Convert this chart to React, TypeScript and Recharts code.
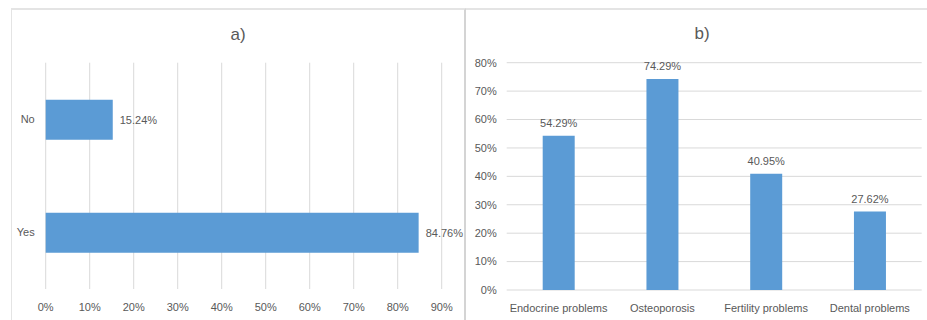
import React from "react";
import { BarChart, Bar, XAxis, YAxis, CartesianGrid, LabelList } from "recharts";

// a) yes / no split
const answerLabels = ["No", "Yes"];
const answerShares = [15.24, 84.76];
const shareTicks = [0, 10, 20, 30, 40, 50, 60, 70, 80, 90];

// b) reported problems
const problemLabels = ["Endocrine problems", "Osteoporosis", "Fertility problems", "Dental problems"];
const problemShares = [54.29, 74.29, 40.95, 27.62];
const problemTicks = [0, 10, 20, 30, 40, 50, 60, 70, 80];

const BAR = "#5B9BD5";
const GRID = "#D9D9D9";
const TEXT = "#595959";
const FONT = "'Liberation Sans', Arial, sans-serif";

const answerData = answerLabels.map((name, i) => ({ name, value: answerShares[i] }));
const problemData = problemLabels.map((name, i) => ({ name, value: problemShares[i] }));

const pct = (v: number) => `${v}%`;
const pct2 = (v: any) => `${Number(v).toFixed(2)}%`;
const tickStyle = { fill: TEXT, fontSize: 11, fontFamily: FONT };

export default function App() {
  return (
    <div style={{ position: "absolute", left: 0, top: 0, width: 927, height: 320, background: "#fff", overflow: "hidden", fontFamily: FONT }}>
      {/* panel frames */}
      <div style={{ position: "absolute", left: 11, top: 8, width: 452, height: 320, borderTop: "2px solid #E4E4E4", borderLeft: "1px solid #E4E4E4", borderRight: "2px solid #D4D4D4" }} />
      <div style={{ position: "absolute", left: 466, top: 8, width: 461, height: 0, borderTop: "2px solid #E4E4E4" }} />

      <div style={{ position: "absolute", left: 11, width: 454, top: 25, textAlign: "center", fontSize: 17, color: TEXT }}>a)</div>
      <div style={{ position: "absolute", left: 467, width: 470, top: 24, textAlign: "center", fontSize: 17, color: TEXT }}>b)</div>

      <div style={{ position: "absolute", left: 0, top: 0 }}>
        <BarChart width={465} height={320} data={answerData} layout="vertical" margin={{ top: 62.7, right: 23.3, bottom: 11, left: 0 }}>
          <CartesianGrid horizontal={false} stroke={GRID} />
          <XAxis type="number" domain={[0, 90]} ticks={shareTicks} tickFormatter={pct} axisLine={false} tickLine={false} height={20} tickMargin={8} tick={tickStyle} interval={0} />
          <YAxis type="category" dataKey="name" width={45.7} axisLine={false} tickLine={false} tickMargin={5} tick={tickStyle} />
          <Bar dataKey="value" fill={BAR} barSize={40} isAnimationActive={false}>
            <LabelList dataKey="value" position="right" offset={7} formatter={pct2} style={{ fill: TEXT, fontSize: 11, fontFamily: FONT }} />
          </Bar>
        </BarChart>
      </div>

      <div style={{ position: "absolute", left: 466, top: 0 }}>
        <BarChart width={461} height={320} data={problemData} margin={{ top: 62.7, right: 5.3, bottom: 6, left: 0 }}>
          <CartesianGrid vertical={false} stroke={GRID} />
          <XAxis dataKey="name" axisLine={false} tickLine={false} height={24} tickMargin={8} tick={tickStyle} interval={0} />
          <YAxis type="number" domain={[0, 80]} ticks={problemTicks} tickFormatter={pct} width={40.7} axisLine={false} tickLine={false} tickMargin={4} tick={tickStyle} interval={0} />
          <Bar dataKey="value" fill={BAR} barSize={32} isAnimationActive={false}>
            <LabelList dataKey="value" position="top" offset={9} formatter={pct2} style={{ fill: TEXT, fontSize: 11, fontFamily: FONT }} />
          </Bar>
        </BarChart>
      </div>
    </div>
  );
}
